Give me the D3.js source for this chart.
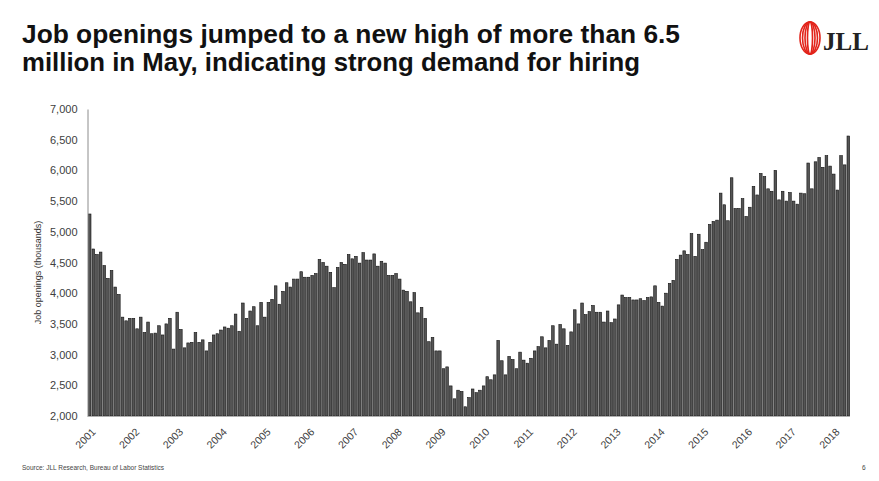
<!DOCTYPE html>
<html>
<head>
<meta charset="utf-8">
<script src="https://cdn.jsdelivr.net/npm/d3@7"></script>
<style>
  body { margin: 0; background: #fff; }
  svg { display: block; font-family: "Liberation Sans", Arial, sans-serif; }
</style>
</head>
<body>
<div id="chart"></div>
<script>
// tick labels on the x axis (one per January)
const years = ["2001", "2002", "2003", "2004", "2005", "2006", "2007", "2008", "2009",
               "2010", "2011", "2012", "2013", "2014", "2015", "2016", "2017", "2018"];

// monthly job openings (thousands), Jan 2001 - May 2018
const openings = [
  5290, 4720, 4630, 4670, 4450, 4240, 4370, 4100, 3980, 3610, 3550, 3590,   // 2001
  3590, 3420, 3610, 3360, 3530, 3340, 3350, 3470, 3320, 3500, 3590, 3090,   // 2002
  3690, 3410, 3110, 3190, 3200, 3360, 3200, 3240, 3060, 3200, 3320, 3340,   // 2003
  3400, 3450, 3430, 3470, 3660, 3380, 3840, 3590, 3710, 3780, 3470, 3850,   // 2004
  3610, 3850, 3900, 4120, 3820, 4030, 4170, 4100, 4230, 4230, 4350, 4260,   // 2005
  4260, 4290, 4320, 4550, 4500, 4440, 4340, 4090, 4420, 4500, 4470, 4630,   // 2006
  4560, 4600, 4490, 4660, 4540, 4540, 4640, 4440, 4520, 4490, 4290, 4290,   // 2007
  4320, 4230, 4050, 4030, 3860, 4010, 3680, 3770, 3590, 3210, 3280, 3060,   // 2008
  3060, 2770, 2800, 2490, 2280, 2420, 2400, 2150, 2300, 2440, 2380, 2420,   // 2009
  2490, 2640, 2590, 2670, 3230, 2900, 2670, 2970, 2920, 2770, 3040, 2910,   // 2010
  2860, 2940, 3060, 3130, 3290, 3110, 3230, 3470, 3170, 3490, 3420, 3150,   // 2011
  3370, 3730, 3500, 3840, 3650, 3700, 3800, 3690, 3690, 3530, 3710, 3520,   // 2012
  3580, 3810, 3970, 3930, 3930, 3890, 3890, 3910, 3880, 3930, 3940, 4120,   // 2013
  3850, 3790, 4000, 4160, 4210, 4550, 4620, 4690, 4630, 4970, 4600, 4960,   // 2014
  4710, 4830, 5120, 5170, 5190, 5630, 5440, 5180, 5880, 5380, 5380, 5540,   // 2015
  5250, 5400, 5740, 5600, 5950, 5900, 5700, 5660, 6000, 5520, 5660, 5500,   // 2016
  5640, 5500, 5450, 5630, 5620, 6120, 5700, 6140, 6210, 6050, 6240, 6070,   // 2017
  5940, 5680, 6240, 6090, 6560                                              // 2018
];

const yTicks = [2000, 2500, 3000, 3500, 4000, 4500, 5000, 5500, 6000, 6500, 7000];

const width = 879, height = 481;
const plot = {left: 88, right: 850, top: 109, bottom: 416};

const svg = d3.select("#chart").append("svg")
    .attr("width", width)
    .attr("height", height)
    .attr("viewBox", [0, 0, width, height]);

// title
const title = svg.append("g")
    .attr("font-weight", "bold")
    .attr("font-size", 25)
    .attr("fill", "#111");
title.append("text").attr("x", 22).attr("y", 43)
    .attr("textLength", 658).attr("lengthAdjust", "spacingAndGlyphs")
    .text("Job openings jumped to a new high of more than 6.5");
title.append("text").attr("x", 22).attr("y", 71)
    .attr("textLength", 618).attr("lengthAdjust", "spacingAndGlyphs")
    .text("million in May, indicating strong demand for hiring");

// JLL logo
const logo = svg.append("g").attr("transform", "translate(810,38)");
[10, 7.5, 5, 2.5].forEach(rx => {
    logo.append("ellipse")
        .attr("rx", rx).attr("ry", 16)
        .attr("fill", "none")
        .attr("stroke", "#e2231a")
        .attr("stroke-width", 1.6);
});
svg.append("text")
    .attr("x", 823).attr("y", 50)
    .attr("font-family", "'Liberation Serif', 'DejaVu Serif', serif")
    .attr("font-weight", "bold")
    .attr("font-size", 25)
    .attr("fill", "#222")
    .text("JLL");

// scales
const months = openings.map((d, i) => years[0] * 1 + Math.floor(i / 12) + "-" + (i % 12 + 1));

const x = d3.scaleBand()
    .domain(months)
    .range([plot.left, plot.right])
    .paddingInner(0.28)
    .paddingOuter(0.1);

const y = d3.scaleLinear()
    .domain([2000, 7000])
    .range([plot.bottom, plot.top]);

// bars
svg.append("g")
    .selectAll("rect")
    .data(openings)
    .join("rect")
    .attr("x", (d, i) => x(months[i]))
    .attr("y", d => y(d))
    .attr("width", x.bandwidth())
    .attr("height", d => y(2000) - y(d))
    .attr("fill", "#555")
    .attr("stroke", "#111")
    .attr("stroke-width", 0.6);

// y axis
const yAxis = svg.append("g")
    .attr("transform", `translate(${plot.left - 0.5},0)`)
    .call(d3.axisLeft(y).tickValues(yTicks).tickSize(0).tickPadding(10)
        .tickFormat(d3.format(",")));
yAxis.select(".domain").attr("stroke", "#8c8c8c");
yAxis.selectAll("text")
    .attr("font-family", "'Liberation Sans', Arial, sans-serif")
    .attr("font-size", 11)
    .attr("fill", "#404040");

// x axis baseline
svg.append("line")
    .attr("x1", plot.left - 0.5).attr("x2", plot.right)
    .attr("y1", y(2000) + 0.5).attr("y2", y(2000) + 0.5)
    .attr("stroke", "#b0b0b0");

// x labels at January of each year
svg.append("g")
    .selectAll("text")
    .data(years)
    .join("text")
    .attr("transform", d => {
        const cx = x(d + "-1") + x.bandwidth() / 2 + 4;
        return `translate(${cx},430) rotate(-45)`;
    })
    .attr("text-anchor", "end")
    .attr("dy", "0.35em")
    .attr("font-size", 10.5)
    .attr("fill", "#404040")
    .text(d => d);

// y axis title
svg.append("text")
    .attr("transform", `translate(41,${(plot.top + plot.bottom) / 2 + 10}) rotate(-90)`)
    .attr("text-anchor", "middle")
    .attr("font-size", 9)
    .attr("fill", "#333")
    .text("Job openings (thousands)");

// footer
svg.append("text")
    .attr("x", 22).attr("y", 470)
    .attr("font-size", 6.5)
    .attr("fill", "#444")
    .text("Source: JLL Research, Bureau of Labor Statistics");
svg.append("text")
    .attr("x", 862).attr("y", 470)
    .attr("font-size", 6.5)
    .attr("fill", "#444")
    .text("6");
</script>
</body>
</html>
